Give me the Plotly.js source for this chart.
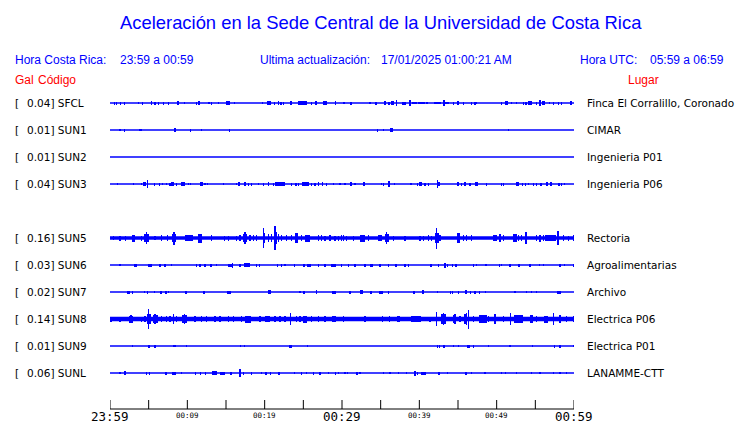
<!DOCTYPE html>
<html><head><meta charset="utf-8">
<script src="https://cdn.plot.ly/plotly-3.0.1.min.js"></script>
<style>html,body{margin:0;padding:0;background:#fff}#chart{width:740px;height:423px}</style>
</head><body><div id="chart"></div>
<script>
// ---- data ----
const stations = ["SFCL","SUN1","SUN2","SUN3","SUN5","SUN6","SUN7","SUN8","SUN9","SUNL"];
const places = ["Finca El Corralillo, Coronado","CIMAR","Ingenieria P01","Ingenieria P06","Rectoria","Agroalimentarias","Archivo","Electrica P06","Electrica P01","LANAMME-CTT"];
const peakGal = ["0.04","0.01","0.01","0.04","0.16","0.03","0.02","0.14","0.01","0.06"];
const slots = [0,1,2,3,5,6,7,8,9,10];
// baseline noise half-amplitude (px-scaled units)
const noise = [0.6,0.6,0.6,0.6,1.8,0.6,0.6,2.2,0.6,0.6];
// bursts: [minute since 23:59, half amplitude, duration in minutes (optional)]
const SFCL = [[0.56,1.5],[0.86,1.5],[1.34,1.5],[1.85,1.5],[3.66,1],[4.18,1.5],[5.39,2],[5.82,1.5],[6.25,1.5],[6.94,1.5],[7.54,1.5],[8.75,2,0.3],[9.61,1],[11.21,1.5],[11.51,2],[12.8,1],[13.15,1.5],[14.01,1],[15.3,2,0.5],[16.08,1],[19.74,1],[20.52,2,0.5],[21.25,1.5],[21.77,2],[22.11,1.5],[22.41,1.5],[23.4,2,0.3],[24.87,1.6,1.1],[26.08,1.5],[26.6,2,0.3],[27.85,1.6,0.5],[29.18,2],[30.26,1],[31.16,1.5,0.3],[33.62,1],[34.4,1.5,0.3],[35.56,2,0.3],[36.08,1.5],[36.51,2,0.3],[37.07,3],[38.02,1.5,0.6],[38.79,3],[39.4,1.4,0.7],[40.3,1.4,0.9],[41.0,1.2,0.3],[42.3,1.4,0.9],[43.5,1.4,0.8],[43.2,3],[44.4,1.5],[45.04,2,0.3],[45.69,1.5],[46.77,1.5],[47.2,1.5],[47.41,1],[50.65,1.5],[51.29,2,0.3],[51.94,1],[52.58,1],[53.45,1.5],[53.79,1.5],[54.31,2,0.4],[55.17,1.5],[55.6,3],[56.03,2,0.4],[56.81,1],[57.33,1.5],[57.97,1.5],[58.4,1.5],[59.61,2,0.3]];
const SUN1 = [[1.29,1],[1.85,1.5],[3.79,1],[4.0,1],[8.4,2,0.3],[10.43,1.5],[11.85,1],[15.43,1.5],[34.57,1.5],[35.34,1],[36.42,2,0.3],[51.51,1]];
const SUN2 = [];
const SUN3 = [[0.95,1],[3.02,1],[4.09,1],[4.44,2,0.3],[4.83,4],[5.73,1.5],[6.38,1.5],[6.77,1],[7.33,1],[7.76,1.5],[8.1,2,0.3],[8.62,1.5],[9.44,2,0.5],[10.13,1],[10.43,1],[11.85,2,0.4],[12.28,1],[12.58,1],[14.65,1],[16.38,1],[16.72,2,0.3],[17.46,2,0.3],[17.89,1.5],[18.32,1.5],[19.18,1],[19.83,1.5],[20.47,2],[21.12,1.5],[21.98,1.7,1.3],[23.49,1.5],[24.05,1.5],[24.35,1.5],[25.26,1.7,0.9],[26.08,1.5],[26.51,1.5],[26.94,2],[27.46,2],[28.02,1.5],[28.88,1],[29.74,1],[30.39,1],[31.16,2,0.3],[31.68,1],[32.84,2,0.3],[35.13,1],[35.34,1.5],[36.08,3,0.3],[36.77,1],[38.92,1],[39.74,1.5],[40.17,2,0.3],[40.73,1.5],[41.16,1.5],[42.33,4],[42.54,2],[45.04,2,0.3],[45.47,1.5],[45.9,2],[46.55,1.5],[47.41,2,0.3],[48.71,1.5],[50.65,1.5],[50.86,1.5],[52.71,2,0.3],[53.36,1.5],[53.75,1.5],[54.09,1],[54.74,1.5],[55.17,1.5],[55.73,1.5],[56.47,2,0.3],[57.03,2],[58.06,1.5],[58.4,1.5],[58.75,1]];
const SUN5 = [[0.43,2],[1.29,2.5],[2.03,2.5],[3.02,3.5,0.3],[4.09,2.5],[4.5,4,0.2],[4.7,6,0.2],[4.9,4,0.2],[5.82,2],[6.68,3],[7.46,3],[8.08,4,0.2],[8.28,6.5,0.2],[8.48,4,0.2],[10.22,3,1.0],[11.64,4.5,0.4],[13.15,3],[14.78,2.5],[15.3,2.5],[16.38,2.5],[16.81,3],[17.3,4,0.2],[17.46,6,0.2],[17.62,4,0.2],[18.1,3],[18.53,3],[18.97,3],[19.83,10,0.2],[20.0,5,0.2],[20.47,4],[20.9,4],[21.34,12,0.2],[21.5,6,0.2],[21.77,4],[22.2,3],[22.84,3],[23.49,3],[24.14,5,0.4],[24.78,3],[25.52,3.5,0.6],[26.94,3],[27.37,3],[27.8,2.5],[28.45,3],[29.09,2.5],[29.52,2.5],[30.17,3],[29.96,3],[30.6,2.5],[31.46,2.5],[32.63,3.5,0.6],[33.4,3],[34.91,3,0.4],[35.6,4,0.2],[35.77,6,0.2],[35.95,4,0.2],[36.64,2.5],[38.14,2.5],[40.08,2.5],[40.52,2.5],[41.16,3],[41.59,2.5],[42.1,5,0.2],[42.24,10.5,0.2],[42.4,5,0.2],[42.67,3],[45.04,5,0.4],[45.69,3],[46.12,3],[46.77,3],[49.78,3,0.4],[50.43,4],[50.86,3],[52.37,4,0.4],[52.8,3],[53.23,3],[53.79,6,0.3],[55.17,3],[55.6,3.5],[56.03,3],[56.98,2.6,1.5],[57.97,7,0.3],[58.62,3],[59.27,2.5],[59.91,3]];
const SUN6 = [[1.29,1],[3.32,1.5,0.4],[5.17,1.5,0.4],[6.46,1.5],[7.11,1.5],[7.97,1],[11.21,1.5],[11.64,1.5],[12.28,1.5],[13.06,1.5],[13.79,1],[15.52,1.5,0.4],[15.82,2.5],[16.81,1.5],[17.67,1.7,0.8],[18.97,1.5],[19.31,1.5],[21.68,1.5],[22.2,1.5],[22.63,1],[23.84,1.5],[25.09,1.5],[25.73,1.5,0.4],[26.94,1.5],[27.8,1.5],[28.88,1.5,0.6],[29.96,1.5],[30.82,1.5],[31.68,1.5],[32.97,1.5],[33.83,1.5,0.4],[34.91,1.5],[35.99,1.5],[36.98,1.5],[38.14,1.5],[38.58,1.5],[41.51,1.5],[42.46,1.5],[43.32,2.5,0.3],[43.62,1.5],[44.31,1.5],[44.74,1.5],[46.98,1.5],[47.41,1],[48.62,1],[50.34,1.5],[50.65,1],[51.72,1.5],[52.89,1.5],[54.31,1.5],[55.52,1],[56.03,1],[58.19,1.5],[58.75,1],[59.91,1.5]];
const SUN7 = [[2.37,1.5,0.4],[2.93,1.5],[4.44,1],[4.83,1.5],[5.73,1],[6.59,1.5],[7.24,1.5],[7.54,1],[9.83,1.5,0.3],[12.15,1.5,0.3],[15.39,1.5,0.5],[20.6,2,0.4],[24.57,1],[25.09,1.5,0.3],[26.72,2],[29.01,1.5,0.5],[31.03,1.5,0.3],[32.54,2,0.4],[33.75,1.5],[35.04,1.5,0.5],[35.99,1.5],[39.31,1.5,0.3],[40.43,2,0.3],[42.37,1],[44.05,1.5],[44.31,1.5],[45.04,1.5],[46.03,2,0.3],[46.64,1.5],[47.2,1.5],[47.76,1.5],[48.58,1],[52.37,1],[53.88,1],[54.52,1],[55.17,1],[58.06,1.5,0.5]];
const SUN8 = [[0.13,2.5],[1.29,2.5],[2.6,3.5,0.2],[2.72,4,0.2],[2.85,3.5,0.2],[4.09,2.5],[4.52,3],[4.85,5,0.2],[5.0,10,0.2],[5.15,5,0.2],[5.6,4,0.2],[5.82,5,0.2],[6.05,4,0.2],[6.68,3],[7.33,3],[7.76,3],[8.19,5],[8.62,3],[9.45,4,0.2],[9.61,5,0.2],[9.8,4,0.2],[10.99,3],[11.85,3],[12.5,3],[13.58,3],[14.22,3],[15.3,3],[15.95,3],[17.03,3],[17.89,3.5,0.8],[19.4,3],[20.35,3,0.6],[21.34,3],[21.98,3],[22.63,3],[23.36,6,0.2],[24.14,3],[24.57,3],[25.22,3.5,0.5],[26.08,3],[26.94,3],[27.8,3],[28.97,3,0.6],[30.17,3],[32.97,3],[35.26,3],[36.12,3],[37.28,3,0.4],[39.57,3,1.3],[41.38,2.5],[42.24,7,0.2],[42.9,5,0.2],[43.1,6,0.2],[43.3,5,0.2],[44.4,4,0.2],[44.6,5,0.2],[45.26,3],[45.9,5,0.2],[46.12,6,0.2],[46.34,9.5,0.2],[46.98,3],[48.19,4,1.0],[48.92,3],[49.78,5,0.3],[50.86,3],[51.81,6,0.2],[52.8,4,1.2],[54.52,4,0.3],[55.17,3],[56.38,3.5,0.6],[57.33,6,0.2],[58.19,4,0.3],[59.05,3],[59.91,3]];
const SUN9 = [[2.89,1],[5.0,1.5,0.3],[5.82,1.5],[8.19,1],[8.4,1],[9.91,1],[16.9,1],[17.37,1],[23.36,1.5,0.3],[25.52,1],[42.37,1.5],[42.58,1.5],[43.23,1.5,0.3],[44.4,1],[45.04,1],[46.34,1.5,0.3],[46.98,1.5],[48.92,1],[51.72,1],[54.61,1],[57.46,1.5],[58.19,1.5],[59.9,1]];
const SUNL = [[1.29,1],[1.94,2],[4.74,1.5],[5.09,1.5],[7.24,1.5],[8.28,1.5,0.6],[9.27,1],[11.08,1.5],[11.72,1.5],[12.37,1.5],[13.49,2,0.6],[14.53,1.5,0.6],[15.65,1.5],[16.81,4],[17.24,1.5],[18.32,1.5],[19.61,1],[20.17,1.5],[20.78,1.5],[21.85,1.5,0.3],[23.84,1],[24.78,1.5],[25.43,1],[26.29,1.5],[27.16,1.5],[28.23,1],[29.18,1.5],[29.52,1],[30.39,1],[30.69,1],[31.98,1.5,0.3],[32.33,1],[35.34,1],[36.21,1],[37.28,1],[38.36,1],[39.44,2.5,0.3],[39.74,1.5],[40.51,1.5,0.6],[42.54,1.5,0.3],[43.62,1],[46.03,1.5,0.3],[46.77,1],[48.49,1],[50.65,1],[51.16,1],[52.58,1],[54.52,1],[55.6,1],[57.33,1],[58.19,1],[59.05,1]];
const bursts = [SFCL,SUN1,SUN2,SUN3,SUN5,SUN6,SUN7,SUN8,SUN9,SUNL];
const tickMinutes = [0,5,10,15,20,25,30,35,40,45,50,55,60];
const tickLabels = ["23:59","","00:09","","00:19","","00:29","","00:39","","00:49","","00:59"];
const bigTicks = ["23:59","00:29","00:59"];

// ---- chart ----
const BLUE = "#0000ff";
const SPACING = 27;
const traces = [];
stations.forEach((s,i)=>{
  const off = -SPACING*slots[i];
  traces.push({type:"scatter",mode:"lines",x:[0,60.3],y:[off,off],
    line:{color:BLUE,width:Math.max(1.4,2*noise[i])},hoverinfo:"skip",showlegend:false,cliponaxis:false});
  const b = bursts[i];
  if(b.length){
    traces.push({type:"bar",x:b.map(d=>d[0]),y:b.map(d=>2*d[1]),base:b.map(d=>off-d[1]),
      width:b.map(d=>d[2]||0.16),marker:{color:BLUE,line:{width:0}},hoverinfo:"skip",showlegend:false});
  }
});

const L=110, R=574, T=90, B=404;
const px = x=>(x-L)/(R-L), py = y=>(B-y)/(B-T);
const ann = [];
function txt(x,y,text,size,color,family,anchor){
  ann.push({xref:"paper",yref:"paper",x:px(x),y:py(y),text:text,showarrow:false,
    xanchor:anchor||"left",yanchor:"middle",font:{size:size,color:color,family:family}});
}
const SANS="Liberation Sans, Arial, sans-serif", DJ="DejaVu Sans, sans-serif", MONO="DejaVu Sans Mono, monospace";
txt(381,22,"Aceleración en la Sede Central de la Universidad de Costa Rica",18.4,BLUE,SANS,"center");
txt(13,60,"Hora Costa Rica:",12,BLUE,SANS);
txt(118,60,"23:59 a 00:59",12,BLUE,SANS);
txt(258,60,"Ultima actualización:",12,BLUE,SANS);
txt(379,60,"17/01/2025 01:00:21 AM",12,BLUE,SANS);
txt(578,60,"Hora UTC:",12,BLUE,SANS);
txt(648,60,"05:59 a 06:59",12,BLUE,SANS);
txt(13,80,"Gal",12,"#ff0000",SANS);
txt(36,80,"Código",12,"#ff0000",SANS);
txt(626,80,"Lugar",12,"#ff0000",SANS);
stations.forEach((s,i)=>{
  const y = 103 + SPACING*slots[i];
  txt(13,y,"[",10.5,"#000",DJ);
  txt(25,y,peakGal[i]+"] "+s,10.5,"#000",DJ);
  txt(585,y,places[i],10.5,"#000",DJ);
});
// time labels under the axis, placed by the x scale
tickMinutes.forEach((m,k)=>{
  const t = tickLabels[k]; if(!t) return;
  const big = bigTicks.includes(t);
  ann.push({xref:"x",yref:"paper",x:m,y:py(big?416:415),text:t,showarrow:false,
    xanchor:"center",yanchor:"middle",font:{family:MONO,size:big?12.5:7.5,color:"#000"}});
});
// axis baseline at y=409 px drawn as a paper-referenced line (not clipped)
const axisY = py(409);

const layout = {
  width:740,height:423,paper_bgcolor:"#fff",plot_bgcolor:"#fff",
  margin:{l:L,r:740-R,t:T,b:423-B,pad:0},
  barmode:"overlay",bargap:0,showlegend:false,
  xaxis:{range:[0,60],showgrid:false,zeroline:false,showline:false,fixedrange:true,
    ticks:"",tickmode:"array",tickvals:tickMinutes,showticklabels:false},
  yaxis:{range:[-SPACING*10-31,13],visible:false,fixedrange:true},
  shapes:[{type:"line",xref:"paper",yref:"paper",x0:0,x1:1,y0:axisY,y1:axisY,line:{color:"#000",width:1}}]
    .concat(tickMinutes.map(m=>({type:"line",xref:"x",yref:"paper",x0:m,x1:m,y0:axisY,y1:py(400),
      line:{color:"#000",width:1}}))),
  annotations:ann
};
Plotly.newPlot("chart",traces,layout,{staticPlot:true,displayModeBar:false});
</script></body></html>
